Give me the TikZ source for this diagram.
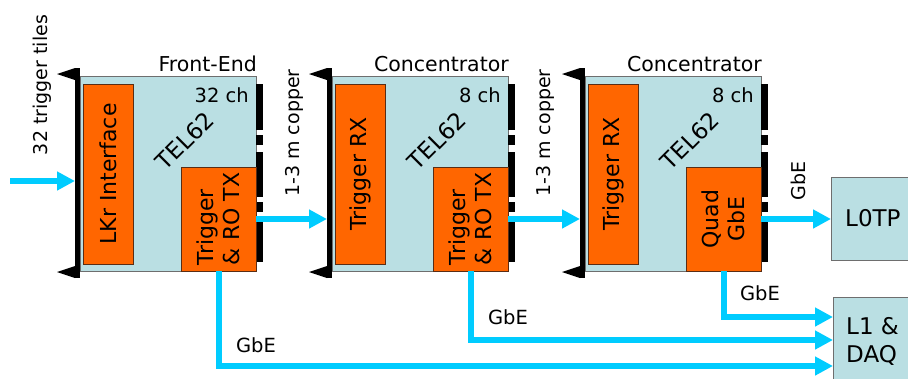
\documentclass[tikz,border=0pt]{standalone}
\usepackage{fontspec}
\setmainfont{DejaVu Sans}
\usetikzlibrary{arrows.meta}
\definecolor{boardblue}{RGB}{186,223,227}
\definecolor{chiporange}{RGB}{255,102,0}
\definecolor{linkcyan}{RGB}{0,204,255}
\definecolor{edgegray}{RGB}{110,110,110}
\definecolor{chipedge}{RGB}{90,45,20}
\newcommand{\telboard}[7]{%
\begin{scope}[xshift=#2pt]
 \node[board, minimum width=176pt, minimum height=195pt] (b#1) at (80,76) {};
 \node[railbar, minimum width=5pt, minimum height=210pt] (bar#1) at (75,68) {};
 \fill (57,74) -- (75,68) -- (75,80) -- cycle;
 \fill (57,272) -- (75,266) -- (75,278) -- cycle;
 \foreach \ya/\yb in {84/130,135/145,152/197,202/212,218/262} \fill (256,\ya) rectangle (263,\yb);
 \node[chip, minimum width=50pt, minimum height=180pt] (rx#1) at (83,84) {};
 \node[chip, minimum width=75pt, minimum height=104pt] (tx#1) at (181,167) {};
 \node[chiptxt] (rxt#1) at (rx#1.center) {#5};
 \node[chiptxt, align=#7] (txt#1) at (tx#1.center) {#6};
 \node[toplbl, anchor=base east] (top#1) at (257,71) {#3};
 \node[lbl, anchor=base east] (ch#1) at (249,102) {#4};
 \node[teltxt] (tel#1) at (185,141) {TEL62};
\end{scope}}
\begin{document}
\begin{tikzpicture}[x=1pt,y=-1pt,
  board/.style={draw=edgegray, fill=boardblue, line width=1pt, inner sep=0pt, outer sep=0pt, anchor=north west},
  railbar/.style={fill=black, inner sep=0pt, outer sep=0pt, anchor=north west},
  chip/.style={draw=chipedge, fill=chiporange, line width=0.8pt, inner sep=0pt, outer sep=0pt, anchor=north west},
  sysbox/.style={draw=edgegray, fill=boardblue, line width=1pt, inner sep=0pt, outer sep=0pt, anchor=north west},
  chiptxt/.style={font=\fontsize{22}{26}\selectfont, rotate=90, inner sep=0pt},
  teltxt/.style={font=\fontsize{23}{27}\selectfont, rotate=45, inner sep=0pt},
  lbl/.style={font=\fontsize{19.5}{23}\selectfont, inner sep=0pt},
  toplbl/.style={font=\fontsize{20.5}{24}\selectfont, inner sep=0pt},
  vlbl/.style={font=\fontsize{19}{23}\selectfont, rotate=90, inner sep=0pt},
  bigtxt/.style={font=\fontsize{23}{28}\selectfont, inner sep=0pt},
  conn/.style={draw=linkcyan, line width=6pt, -{Triangle[length=18pt,width=18pt]}}
]
\clip (0,0) rectangle (908,378);
\fill[white] (0,0) rectangle (908,378);

\telboard{1}{0}{Front-End}{32 ch}{LKr Interface}{Trigger\\\& RO TX}{left}
\telboard{2}{252}{Concentrator}{8 ch}{Trigger RX}{Trigger\\\& RO TX}{left}
\telboard{3}{505}{Concentrator}{8 ch}{Trigger RX}{Quad\\GbE}{center}

\node[sysbox, minimum width=120pt, minimum height=83pt] (l0) at (831,177) {};
\node[bigtxt, anchor=west] (l0t) at (845,218) {L0TP};
\node[sysbox, minimum width=120pt, minimum height=120pt] (l1) at (833,297) {};
\node[bigtxt, anchor=west, align=left] (l1t) at (846,341) {L1 \&\\DAQ};

\node[vlbl] (tiles) at (42,85) {32 trigger tiles};
\node[vlbl] (cu1) at (294,133) {1-3 m copper};
\node[vlbl] (cu2) at (545,133) {1-3 m copper};
\node[vlbl] (gbe0) at (798,181) {GbE};
\node[lbl] (gbe1) at (256,345) {GbE};
\node[lbl] (gbe2) at (508,317) {GbE};
\node[lbl] (gbe3) at (760,293) {GbE};

\coordinate (in) at (10,181);
\coordinate (g1) at (0,366);
\coordinate (g2) at (0,340);
\coordinate (g3) at (0,317);
\draw[conn] (in) -- (bar1.west |- in);
\draw[conn] (tx1.east) -- (bar2.west |- tx1.east);
\draw[conn] (tx2.east) -- (bar3.west |- tx2.east);
\draw[conn] (tx3.east) -- (l0.west |- tx3.east);
\draw[conn] (tx1.south) |- (l1.west |- g1);
\draw[conn] (tx2.south) |- (l1.west |- g2);
\draw[conn] (tx3.south) |- (l1.west |- g3);
\end{tikzpicture}
\end{document}
